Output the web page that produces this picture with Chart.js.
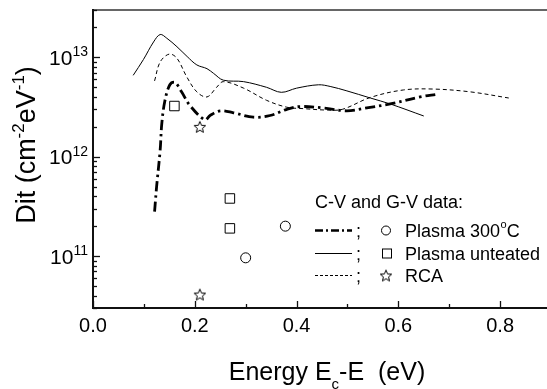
<!DOCTYPE html>
<html><head><meta charset="utf-8">
<script src="https://cdn.jsdelivr.net/npm/chart.js@4.4.1/dist/chart.umd.min.js"></script>
<style>
html,body{margin:0;padding:0;background:#fff;overflow:hidden}
#wrap{width:547px;height:389px;overflow:hidden;position:relative;background:#fff}
canvas{display:block}
</style></head>
<body><div id="wrap"><canvas id="c" width="560" height="389" style="width:560px;height:389px"></canvas></div>
<script>
const FONT = '"Liberation Sans", Arial, Helvetica, sans-serif';

// Axis ranges and ticks
const xMin = 0, xMax = 0.9;
const yMin = 3e10, yMax = 3e13;
const xTickValues = [0, 0.2, 0.4, 0.6, 0.8];
const xTickLabels = ['0.0', '0.2', '0.4', '0.6', '0.8'];
const xMinorTickValues = [0.1, 0.3, 0.5, 0.7];
const yTickExponents = [11, 12, 13];

// C-V / G-V curves (Energy Ec-E in eV, Dit in cm^-2 eV^-1)
const plasma300Energy = [0.121, 0.125, 0.132, 0.135, 0.141, 0.151, 0.161, 0.174, 0.190, 0.220, 0.230, 0.250, 0.276, 0.315, 0.348, 0.381, 0.407, 0.453, 0.499, 0.538, 0.584, 0.643, 0.676];
const plasma300Dit    = [2.8e11, 5.0e11, 1.17e12, 2.1e12, 3.6e12, 5.3e12, 5.6e12, 4.5e12, 3.3e12, 2.35e12, 2.6e12, 2.9e12, 2.77e12, 2.5e12, 2.6e12, 3.0e12, 3.2e12, 3.1e12, 2.9e12, 3.1e12, 3.4e12, 4.0e12, 4.25e12];

const untreatedEnergy = [0.079, 0.099, 0.119, 0.132, 0.145, 0.165, 0.185, 0.204, 0.224, 0.237, 0.256, 0.296, 0.341, 0.370, 0.400, 0.443, 0.466, 0.499, 0.545, 0.584, 0.650];
const untreatedDit    = [6.6e12, 9.5e12, 1.43e13, 1.70e13, 1.56e13, 1.28e13, 1.02e13, 8.4e12, 7.7e12, 6.9e12, 5.9e12, 5.7e12, 5.0e12, 4.45e12, 4.9e12, 5.3e12, 5.1e12, 4.6e12, 3.9e12, 3.4e12, 2.57e12];

const rcaEnergy = [0.121, 0.132, 0.150, 0.165, 0.184, 0.204, 0.224, 0.243, 0.256, 0.296, 0.341, 0.381, 0.413, 0.460, 0.490, 0.545, 0.610, 0.669, 0.741, 0.817];
const rcaDit    = [5.8e12, 9.0e12, 1.08e13, 9.8e12, 6.4e12, 4.5e12, 4.0e12, 5.0e12, 5.7e12, 4.9e12, 3.7e12, 3.15e12, 3.05e12, 2.95e12, 3.0e12, 3.95e12, 4.7e12, 4.8e12, 4.5e12, 3.9e12];

// Single data points
const circleEnergy = [0.300, 0.378];
const circleDit    = [9.6e10, 2.0e11];
const squareEnergy = [0.160, 0.269, 0.269];
const squareDit    = [3.24e12, 3.8e11, 1.9e11];
const starEnergy   = [0.210, 0.210];
const starDit      = [2.0e12, 4.1e10];

// Legend text
const legendTitle = 'C-V and G-V data:';
const legendLabels = [['Plasma 300', 'o', 'C'], ['Plasma unteated', '', ''], ['RCA', '', '']];

function zip(a, b) { return a.map((v, i) => ({x: v, y: b[i]})); }

// Outline five-point star as point style image
function makeStar(size, lw) {
  const c = document.createElement('canvas');
  c.width = size; c.height = size;
  const g = c.getContext('2d');
  const cx = size / 2, cy = size / 2 + 0.6, R = size / 2 - 1, r = R * 0.45;
  g.beginPath();
  for (let i = 0; i < 10; i++) {
    const a = -Math.PI / 2 + i * Math.PI / 5;
    const rr = i % 2 === 0 ? R : r;
    const px = cx + rr * Math.cos(a), py = cy + rr * Math.sin(a);
    if (i === 0) g.moveTo(px, py); else g.lineTo(px, py);
  }
  g.closePath();
  g.fillStyle = '#fff'; g.fill();
  g.lineWidth = lw; g.strokeStyle = '#000'; g.stroke();
  return c;
}
const starImg = makeStar(14, 1);

const lineBase = {pointRadius: 0, fill: false, borderColor: '#000', tension: 0.35, showLine: true};

const decor = {
  id: 'decor',
  afterDraw(chart) {
    const ctx = chart.ctx, a = chart.chartArea;
    const xs = chart.scales.x, ys = chart.scales.y;
    ctx.save();
    // frame
    ctx.lineCap = 'butt';
    ctx.strokeStyle = '#666'; ctx.lineWidth = 2;
    ctx.beginPath(); ctx.moveTo(a.left, a.top); ctx.lineTo(a.right, a.top); ctx.lineTo(a.right, a.bottom); ctx.stroke();
    ctx.strokeStyle = '#111'; ctx.lineWidth = 2;
    ctx.beginPath(); ctx.moveTo(a.left, a.top - 1); ctx.lineTo(a.left, a.bottom); ctx.lineTo(a.right, a.bottom); ctx.stroke();
    // x ticks (inward)
    ctx.lineWidth = 1.3; ctx.strokeStyle = '#111';
    xTickValues.forEach(v => { const px = Math.round(xs.getPixelForValue(v)) + 0.5; ctx.beginPath(); ctx.moveTo(px, a.bottom); ctx.lineTo(px, a.bottom - 7); ctx.stroke(); });
    xMinorTickValues.forEach(v => { const px = Math.round(xs.getPixelForValue(v)) + 0.5; ctx.beginPath(); ctx.moveTo(px, a.bottom); ctx.lineTo(px, a.bottom - 4); ctx.stroke(); });
    // y ticks
    for (let e = 10; e <= 13; e++) {
      for (let m = 1; m <= 9; m++) {
        const v = m * Math.pow(10, e);
        if (v < yMin * 0.999 || v > yMax * 1.001) continue;
        const py = Math.round(ys.getPixelForValue(v)) + 0.5;
        const len = m === 1 ? 7 : 4;
        ctx.beginPath(); ctx.moveTo(a.left, py); ctx.lineTo(a.left + len, py); ctx.stroke();
      }
    }
    // x tick labels
    ctx.fillStyle = '#000';
    ctx.font = '20px ' + FONT; ctx.textAlign = 'center'; ctx.textBaseline = 'alphabetic';
    xTickValues.forEach((v, i) => ctx.fillText(xTickLabels[i], xs.getPixelForValue(v), a.bottom + 24));
    // y tick labels 10^n
    yTickExponents.forEach(e => {
      const py = ys.getPixelForValue(Math.pow(10, e));
      ctx.font = '14px ' + FONT; ctx.textAlign = 'left';
      const sup = String(e); const sw = ctx.measureText(sup).width;
      const supX = a.left - 5 - sw;
      ctx.fillText(sup, supX, py - 1);
      ctx.font = '21px ' + FONT; ctx.textAlign = 'right';
      ctx.fillText('10', supX, py + 7.5);
    });
    // x axis title
    {
      const parts = [['Energy E', 25, 0], ['c', 15, 9], ['-E  (eV)', 25, 0]];
      let total = 0;
      parts.forEach(p => { ctx.font = p[1] + 'px ' + FONT; total += ctx.measureText(p[0]).width; });
      let x = (a.left + a.right) / 2 + 5 - total / 2;
      ctx.textAlign = 'left';
      parts.forEach(p => { ctx.font = p[1] + 'px ' + FONT; ctx.fillText(p[0], x, 380 + p[2]); x += ctx.measureText(p[0]).width; });
    }
    // y axis title
    {
      const parts = [['Dit (cm', 27, 0], ['-2', 17, -11], ['eV', 27, 0], ['-1', 17, -11], [')', 27, 0]];
      let total = 0;
      parts.forEach(p => { ctx.font = p[1] + 'px ' + FONT; total += ctx.measureText(p[0]).width; });
      ctx.save();
      ctx.translate(35, 145); ctx.rotate(-Math.PI / 2);
      let x = -total / 2;
      ctx.textAlign = 'left';
      parts.forEach(p => { ctx.font = p[1] + 'px ' + FONT; ctx.fillText(p[0], x, p[2]); x += ctx.measureText(p[0]).width; });
      ctx.restore();
    }
    // legend
    ctx.font = '18px ' + FONT; ctx.textAlign = 'left';
    ctx.fillText(legendTitle, 315, 208);
    const rows = [237, 260, 282];
    const lineStyles = [{w: 2.6, d: [8, 3, 2, 3]}, {w: 1, d: []}, {w: 1, d: [3, 2]}];
    rows.forEach((by, i) => {
      const cy = by - 6.5;
      ctx.save();
      ctx.lineWidth = lineStyles[i].w; ctx.setLineDash(lineStyles[i].d); ctx.strokeStyle = '#000';
      ctx.beginPath(); ctx.moveTo(315, cy); ctx.lineTo(352, cy); ctx.stroke();
      ctx.restore();
      ctx.font = '18px ' + FONT;
      ctx.fillText(';', 356, by);
      // marker
      ctx.lineWidth = 1; ctx.strokeStyle = '#000'; ctx.fillStyle = '#fff';
      if (i === 0) { ctx.beginPath(); ctx.arc(386, cy, 4.5, 0, Math.PI * 2); ctx.fill(); ctx.stroke(); }
      else if (i === 1) { ctx.fillRect(382, cy - 4.5, 9, 9); ctx.strokeRect(382.5, cy - 4.5, 9, 9); }
      else { ctx.drawImage(starImg, 386 - 7, cy - 7); }
      ctx.fillStyle = '#000';
      const lab = legendLabels[i];
      let tx = 405;
      ctx.font = '18px ' + FONT; ctx.fillText(lab[0], tx, by); tx += ctx.measureText(lab[0]).width;
      if (lab[1]) { ctx.font = '11px ' + FONT; ctx.fillText(lab[1], tx + 0.5, by - 9); tx += ctx.measureText(lab[1]).width + 0.5; }
      if (lab[2]) { ctx.font = '18px ' + FONT; ctx.fillText(lab[2], tx, by); }
    });
    ctx.restore();
  }
};

new Chart(document.getElementById('c'), {
  type: 'scatter',
  data: {
    datasets: [
      Object.assign({}, lineBase, {label: 'Plasma 300C curve', data: zip(plasma300Energy, plasma300Dit), borderWidth: 2.8, borderDash: [10, 4, 2.5, 4]}),
      Object.assign({}, lineBase, {label: 'Plasma untreated curve', data: zip(untreatedEnergy, untreatedDit), borderWidth: 1}),
      Object.assign({}, lineBase, {label: 'RCA curve', data: zip(rcaEnergy, rcaDit), borderWidth: 1, borderDash: [4, 3]}),
      {label: 'Plasma 300C', data: zip(circleEnergy, circleDit), pointStyle: 'circle', pointRadius: 5, borderColor: '#000', backgroundColor: '#fff', borderWidth: 1, showLine: false},
      {label: 'Plasma unteated', data: zip(squareEnergy, squareDit), pointStyle: 'rect', pointRadius: 6.7, borderColor: '#000', backgroundColor: '#fff', borderWidth: 1, showLine: false},
      {label: 'RCA', data: zip(starEnergy, starDit), pointStyle: starImg, pointRadius: 7, showLine: false}
    ]
  },
  options: {
    responsive: false, animation: false, devicePixelRatio: 1,
    layout: {padding: {left: 93, top: 10, right: 9, bottom: 81}},
    plugins: {legend: {display: false}, tooltip: {enabled: false}},
    scales: {
      x: {type: 'linear', min: xMin, max: xMax, ticks: {display: false}, grid: {display: false, drawTicks: false}, border: {display: false}},
      y: {type: 'logarithmic', min: yMin, max: yMax, ticks: {display: false}, grid: {display: false, drawTicks: false}, border: {display: false}}
    }
  },
  plugins: [decor]
});
</script>
</body></html>
